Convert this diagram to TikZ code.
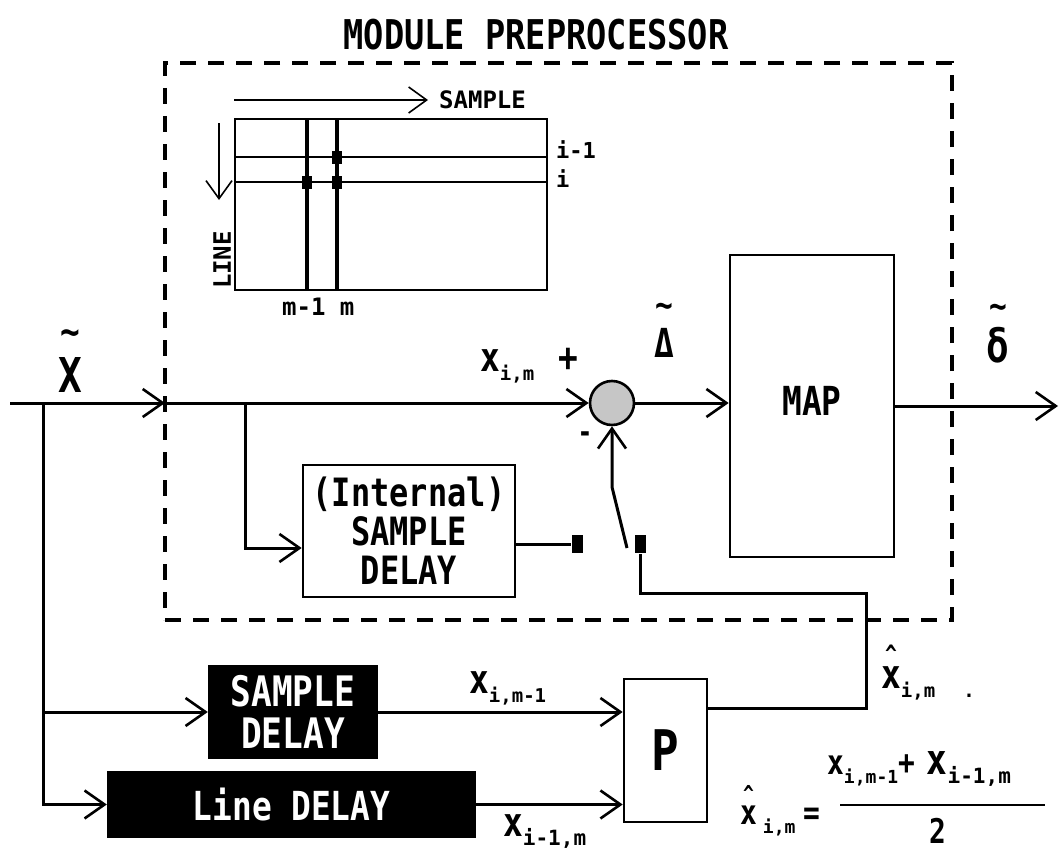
\documentclass[tikz,border=0pt]{standalone}
\usepackage{fontspec}
\usetikzlibrary{arrows.meta,calc}
\newfontfamily\plotfont{DejaVu Sans Mono}[FakeStretch=0.82]
\newfontfamily\plotwide{DejaVu Sans Mono}
\newcommand\fs[1]{\fontsize{#1}{#1}\selectfont}
\newcommand\pf[1]{\plotfont\bfseries\fs{#1}}
\newcommand\pw[1]{\plotwide\bfseries\fs{#1}}
\newsavebox\accbox
\newcommand\putabove[3]{\sbox\accbox{#3}\rlap{\makebox[\wd\accbox]{\raisebox{#1}{#2}}}\usebox\accbox}
\newcommand\sbx[2]{\raisebox{-9pt}{\pw{#1}#2}}
\begin{document}
\begin{tikzpicture}[x=1pt,y=-1pt,line width=2.4pt,font=\pf{40},
  box/.style={draw,line width=2.6pt,inner sep=0pt,align=center},
  blackbox/.style={fill=black,draw=black,text=white,inner sep=0pt,align=center},
  arr/.style={-{Straight Barb[length=20pt,width=28pt,line width=2.6pt]}},
  thinarr/.style={-{Straight Barb[length=18pt,width=26pt,line width=1.6pt]}},
  dashedbox/.style={draw,line width=4.5pt,dash pattern=on 16pt off 12pt,inner sep=0pt},
  gridline/.style={line width=1.8pt},
  mline/.style={line width=3pt},
  dot/.style={fill=black,minimum width=10pt,minimum height=13pt,inner sep=0pt},
  contact/.style={fill=black,minimum width=11pt,minimum height=18pt,inner sep=0pt},
  lbl/.style={inner sep=0pt}]
\useasboundingbox[fill=white] (0,0) rectangle (1061,851);

% title and module frame
\node[lbl,anchor=base,font=\pf{41}] (title) at (536,50) {MODULE PREPROCESSOR};
\node[dashedbox,minimum width=787pt,minimum height=557pt] (pre) at (558.5,341.5) {};

% sample/line grid
\node[draw,gridline,minimum width=312pt,minimum height=171pt,inner sep=0pt] (grid) at (391,204.5) {};
\draw[gridline] (grid.west |- 0,157) -- (grid.east |- 0,157);
\draw[gridline] (grid.west |- 0,182) -- (grid.east |- 0,182);
\draw[line width=3.2pt] (grid.north -| 307,0) -- (grid.south -| 307,0);
\draw[line width=3.2pt] (grid.north -| 337,0) -- (grid.south -| 337,0);
\node[dot] (d1) at (337,157) {};
\node[dot] (d2) at (307,182) {};
\node[dot] (d3) at (337,182) {};
\node[lbl,anchor=west,font=\pw{24}] (samplbl) at (438,100) {SAMPLE};
\coordinate (sa) at (234,100);
\draw[line width=1.6pt,thinarr] (sa) -- ([xshift=-10pt]samplbl.west);
\node[lbl,rotate=90,font=\pw{24}] (linelbl) at (222,260) {LINE};
\coordinate (la) at (219,123);
\draw[line width=1.6pt,thinarr] (la) -- (219,200);
\node[lbl,anchor=west,font=\pw{22}] (im1) at (555,150) {i-1};
\node[lbl,anchor=west,font=\pw{22}] (ii) at (555,179) {i};
\node[lbl,anchor=west,font=\pw{24}] (mm) at (281,307) {m-1 m};

% main path
\coordinate (in) at (10,403);
\coordinate (entry) at (165,403);
\coordinate (j1) at (43,403);
\coordinate (j2) at (245,403);
\coordinate (out) at (1058,403);
\node[draw,circle,fill=gray!45,minimum size=44pt,line width=2.6pt,inner sep=0pt] (sum) at (612,403) {};
\node[box,minimum width=164pt,minimum height=302pt,font=\pf{40}] (map) at (812,406) {\raisebox{11pt}{MAP}};
\node[box,minimum width=212pt,minimum height=132pt,font=\pf{39}] (idel) at (409,531) {(Internal)\\SAMPLE\\DELAY};
\node[contact] (sq1) at (577.5,544) {};
\node[contact] (sq2) at (640.5,544) {};
\node[blackbox,minimum width=168pt,minimum height=92pt,font=\pf{42}] (sdel) at (293,712) {SAMPLE\\DELAY};
\node[blackbox,minimum width=367pt,minimum height=65pt,font=\pf{40}] (ldel) at (291.5,804.5) {Line DELAY};
\node[box,minimum width=83pt,minimum height=143pt,font=\pf{56}] (P) at (665.5,750.5) {P};

\draw[mline,arr] (in) -- (entry);
\draw[mline,arr] (entry) -- (sum.west);
\draw[mline,arr] (sum.east) -- (sum.east -| map.west);
\draw[mline,arr] (map.east) -- (map.east -| out);
\draw[mline,arr] (j2) |- ([yshift=-17pt]idel.west);
\draw[mline] ([yshift=-13pt]idel.east) -- (sq1.west);
\coordinate (sw) at (627,548);
\coordinate (bend) at (612,487);
\draw[mline,arr] (sw) -- (bend) -- (sum.south);
\node[lbl,font=\pf{30}] (minus) at (585,437) {-};
\coordinate (c1) at (866,593);
\draw[mline] ([yshift=42pt]P.east) -| (c1) -| (sq2.south);
\draw[mline,arr] (j1) |- (sdel.west);
\draw[mline,arr] (j1) |- (ldel.west);
\draw[mline,arr] (sdel.east) -- (sdel.east -| P.west);
\draw[mline,arr] (ldel.east) -- (ldel.east -| P.west);

% labels
\node[lbl,anchor=base,font=\pf{48}] (Xl) at (70,392) {\putabove{47pt}{\pf{40}\textasciitilde}{X}};
\node[lbl,anchor=base,font=\pf{40}] (Dl) at (664,357) {\putabove{40pt}{\pf{36}\textasciitilde}{Δ}};
\node[lbl,anchor=base,font=\pf{46}] (dl) at (998,362) {\putabove{44pt}{\pf{36}\textasciitilde}{δ}};
\node[lbl,anchor=base west,font=\pf{40}] (xim) at (479,371) {x\sbx{19}{i,m}\hspace{24pt}+};
\node[lbl,anchor=base west,font=\pf{40}] (ximm1) at (468,693) {x\sbx{19}{i,m-1}};
\node[lbl,anchor=base west,font=\pf{40}] (xim1m) at (502,836) {x\sbx{21}{i-1,m}};
\node[lbl,anchor=base west,font=\pf{40}] (xhat) at (880,688) {\putabove{26pt}{\pf{24}\textasciicircum}{x}\sbx{19}{i,m\hspace{28pt}.}};

% formula
\node[lbl,anchor=base west,font=\pf{34}] (lhs) at (739,824) {\putabove{23pt}{\pf{22}\textasciicircum}{x}\sbx{18}{\hspace{6pt}i,m}\hspace{8pt}=};
\node[lbl,anchor=base west,font=\pf{34}] (num) at (826,774) {x\sbx{18}{i,m-1}+\hspace{12pt}{\pf{42}x}\sbx{21}{i-1,m}};
\coordinate (b1) at (840,805);
\coordinate (b2) at (1045,805);
\draw[line width=2.2pt] (b1) -- (b2);
\node[lbl,anchor=base,font=\pf{34}] (den) at (938,843) {2};
\end{tikzpicture}
\end{document}
